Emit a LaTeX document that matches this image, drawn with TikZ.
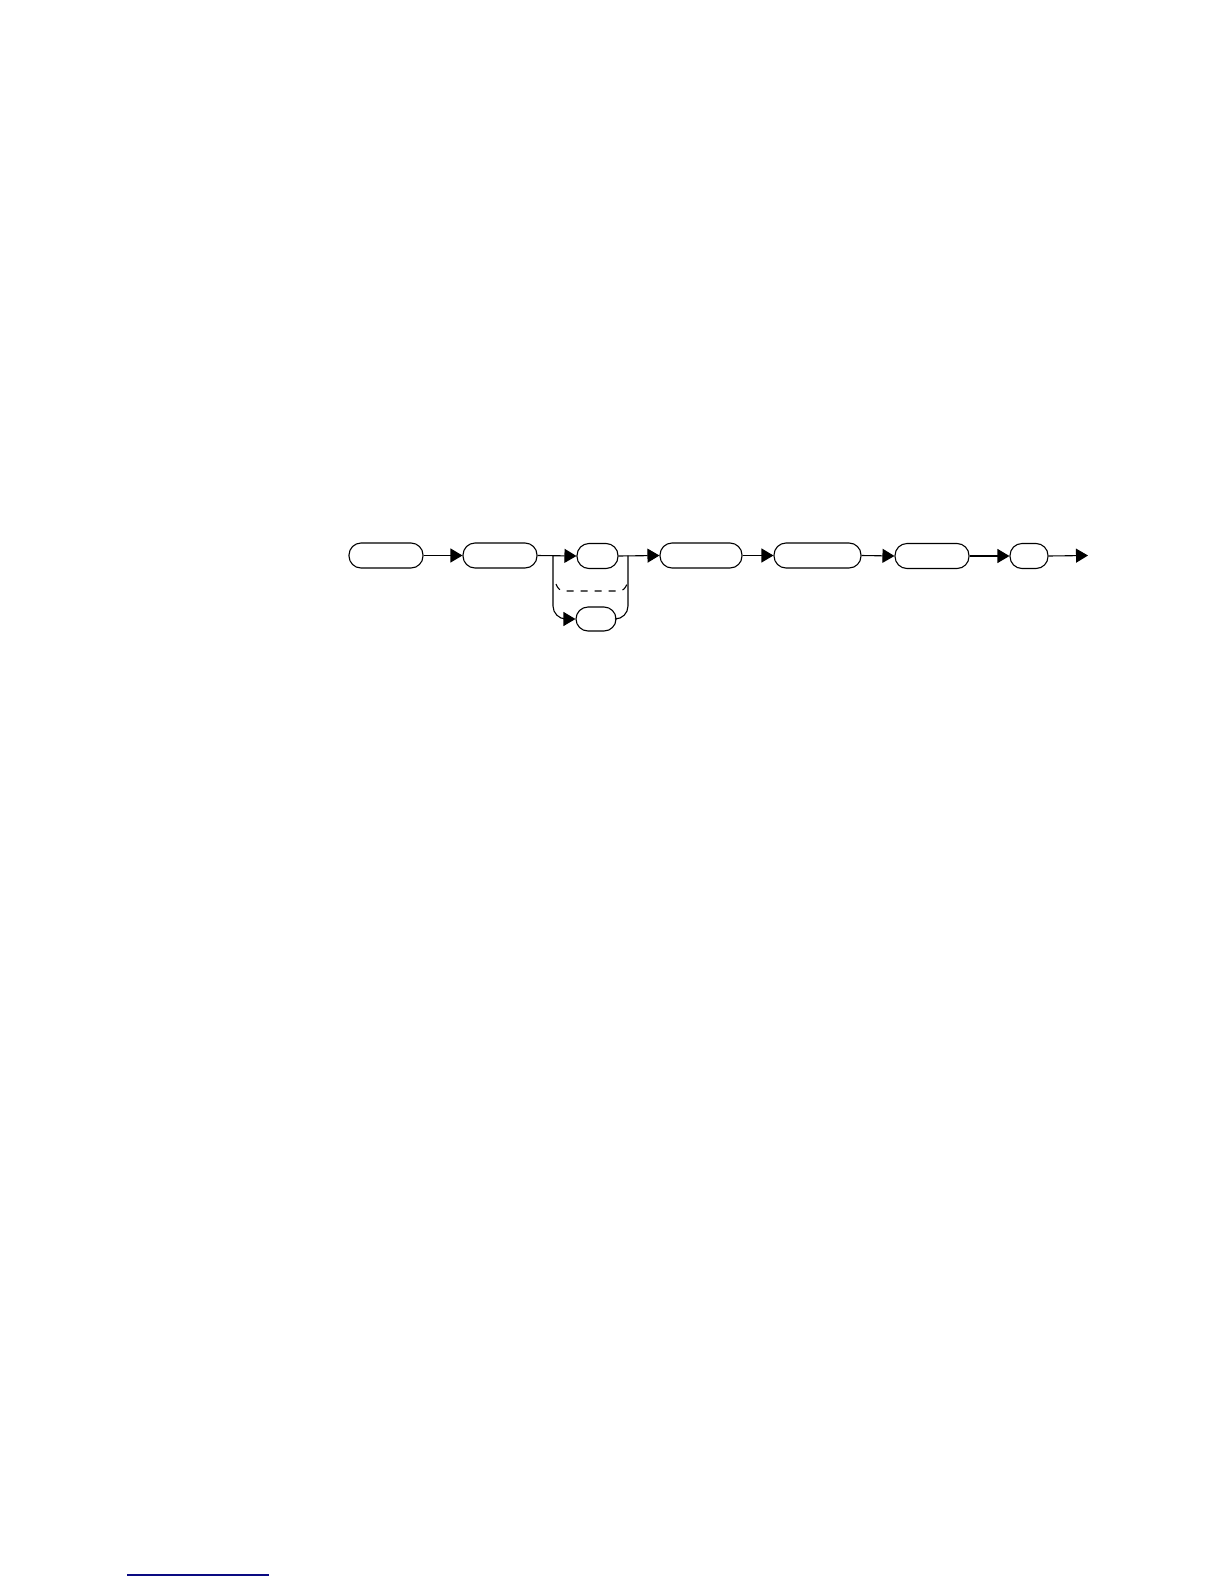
\documentclass[tikz,border=0pt]{standalone}
\usetikzlibrary{arrows.meta}
\definecolor{navyline}{RGB}{10,10,130}
\begin{document}
\begin{tikzpicture}[x=1pt,y=-1pt,
  term/.style={draw,line width=1.1pt,rounded corners=12pt,minimum height=25pt,inner sep=0pt},
  conn/.style={line width=1.1pt},
  arr/.style={conn,-{Triangle[length=12pt,width=14pt]}}]
\useasboundingbox (0,0) rectangle (1224,1584);
\node[term,minimum width=74pt] (b1) at (386,555.5) {};
\node[term,minimum width=74pt] (b2) at (500,555.5) {};
\node[term,minimum width=41pt] (b3) at (597.5,556) {};
\node[term,minimum width=40pt,minimum height=24pt] (bb) at (596,619) {};
\node[term,minimum width=82pt] (b4) at (701,555.5) {};
\node[term,minimum width=87pt] (b5) at (817.5,555.5) {};
\node[term,minimum width=74pt] (b6) at (932,556) {};
\node[term,minimum width=38pt] (b7) at (1029,556) {};
\coordinate (split) at (553,555.5);
\coordinate (join) at (628,555.5);
\coordinate (dl) at (556,584);
\coordinate (dr) at (627,584);
\coordinate (fin) at (1088,555.5);
\coordinate (ul) at (127,1575);
\coordinate (ur) at (269,1575);
\draw[arr] (b1.east) -- (b2.west);
\draw[arr] (b2.east) -- (b3.west);
\draw[arr,rounded corners=13pt] (split) |- (bb.west);
\draw[conn,rounded corners=13pt] (bb.east) -| (join);
\draw[conn,dash pattern=on 7pt off 7pt] (dl) to[out=-70,in=180] (564,591) -- (619,591) to[out=0,in=-110] (dr);
\draw[arr] (b3.east) -- (b4.west);
\draw[arr] (b4.east) -- (b5.west);
\draw[arr] (b5.east) -- (b6.west);
\draw[arr] (b6.east) -- (b7.west);
\draw[arr] (b7.east) -- (fin);
\draw[navyline,line width=1.3pt] (ul) -- (ur);
\end{tikzpicture}
\end{document}
